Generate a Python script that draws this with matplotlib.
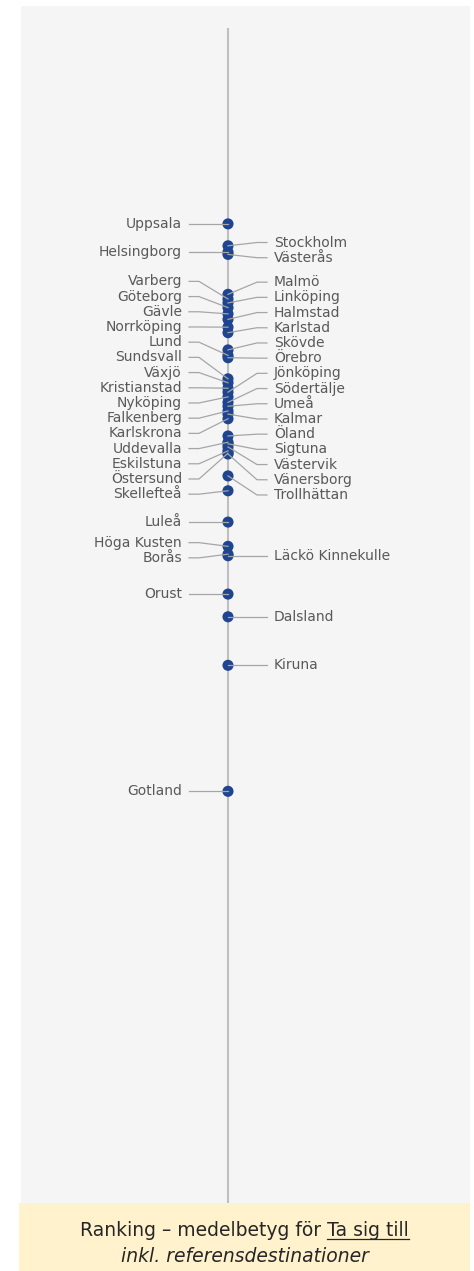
import matplotlib.pyplot as plt
from matplotlib.patches import Rectangle
import numpy as np

# medelbetyg "Ta sig till" per destination
names = ["Uppsala", "Stockholm", "Helsingborg", "Västerås", "Malmö", "Varberg",
         "Linköping", "Göteborg", "Gävle", "Halmstad", "Norrköping", "Karlstad",
         "Skövde", "Lund", "Örebro", "Sundsvall", "Växjö", "Kristianstad",
         "Jönköping", "Nyköping", "Södertälje", "Umeå", "Falkenberg", "Kalmar",
         "Karlskrona", "Öland", "Uddevalla", "Sigtuna", "Västervik", "Eskilstuna",
         "Östersund", "Vänersborg", "Trollhättan", "Skellefteå", "Luleå",
         "Höga Kusten", "Borås", "Läckö Kinnekulle", "Orust", "Dalsland",
         "Kiruna", "Gotland"]
scores = [4.251, 4.223, 4.215, 4.212, 4.161, 4.155,
          4.150, 4.144, 4.136, 4.129, 4.119, 4.112,
          4.090, 4.083, 4.080, 4.053, 4.048, 4.041,
          4.036, 4.030, 4.023, 4.018, 4.012, 4.008,
          4.002, 3.980, 3.972, 3.970, 3.966, 3.961,
          3.958, 3.957, 3.929, 3.910, 3.870,
          3.839, 3.829, 3.827, 3.778, 3.749,
          3.687, 3.526]
sides = ["L", "R", "L", "R", "R", "L",
         "R", "L", "L", "R", "L", "R",
         "R", "L", "R", "L", "L", "L",
         "R", "L", "R", "R", "L", "R",
         "L", "R", "L", "R", "R", "L",
         "L", "R", "R", "L", "L",
         "L", "L", "R", "L", "R",
         "R", "L"]
axis_top, axis_bot = 4.5, 3.0

scores = np.array(scores)
sides = np.array(sides)

W, H = 474, 1271
fig = plt.figure(figsize=(W / 100, H / 100), dpi=100)
fig.patch.set_facecolor("white")

# grå plotyta i pixlar
pl, pr, pt, pb = 21, 470, 6, 1203
line_top = 29
ax = fig.add_axes([pl / W, 1 - pb / H, (pr - pl) / W, (pb - pt) / H])
ax.set_facecolor("#F5F5F5")
per_px = (axis_top - axis_bot) / (pb - line_top)
ax.set_xlim(pl, pr)
ax.set_ylim(axis_bot, axis_top + (line_top - pt) * per_px)
for s in ax.spines.values():
    s.set_visible(False)
ax.set_xticks([])
ax.set_yticks([])

x0 = 228
ax.plot([x0, x0], [axis_bot, axis_top], color="#BFBFBF", lw=1.5, zorder=1)
ax.scatter(np.full(len(scores), x0), scores, s=64, color="#1F4590",
           edgecolors="none", zorder=2)


def spread(vals, gap):
    order = np.argsort(-vals)
    y = vals[order].astype(float).copy()
    for _ in range(2000):
        moved = False
        for i in range(1, len(y)):
            d = y[i - 1] - y[i]
            if d < gap - 1e-9:
                sh = (gap - d) / 2
                y[i - 1] += sh
                y[i] -= sh
                moved = True
        if not moved:
            break
    out = np.empty_like(y)
    out[order] = y
    return out


gap = 15.2 * per_px
lab_y = np.zeros(len(scores))
for side in ["L", "R"]:
    m = sides == side
    lab_y[m] = spread(scores[m], gap)

lc = "#A6A6A6"
tc = "#595959"
for name, sc, side, ly in zip(names, scores, sides, lab_y):
    if side == "L":
        ax.text(182, ly, name, ha="right", va="center", fontsize=10, color=tc)
        ax.plot([189, 199, x0], [ly, ly, sc], color=lc, lw=0.9, zorder=3)
    else:
        ax.text(274, ly, name, ha="left", va="center", fontsize=10, color=tc)
        ax.plot([267, 257, x0], [ly, ly, sc], color=lc, lw=0.9, zorder=3)

# rubrikruta
fig.patches.append(Rectangle((19 / W, 0), (470 - 19) / W, (H - 1203) / H,
                             transform=fig.transFigure, facecolor="#FFF2CC",
                             edgecolor="none", zorder=0))
cx = (19 + 470) / 2 / W
t1 = fig.text(cx, 1 - 1236 / H, "Ranking – medelbetyg för Ta sig till",
              ha="center", va="baseline", fontsize=13.5, color="#262626")
fig.text(cx, 1 - 1262 / H, "inkl. referensdestinationer", ha="center",
         va="baseline", fontsize=13.5, style="italic", color="#262626")

r = fig.canvas.get_renderer()
bb = t1.get_window_extent(r)
tmp = fig.text(0, 0, "Ta sig till", fontsize=13.5)
w_tail = tmp.get_window_extent(r).width
tmp.remove()
uy = 1 - 1239 / H
fig.add_artist(plt.Line2D([(bb.x1 - w_tail) / W, bb.x1 / W], [uy, uy],
                          transform=fig.transFigure, color="#262626", lw=0.9))

fig.savefig("out.png", dpi=100)
